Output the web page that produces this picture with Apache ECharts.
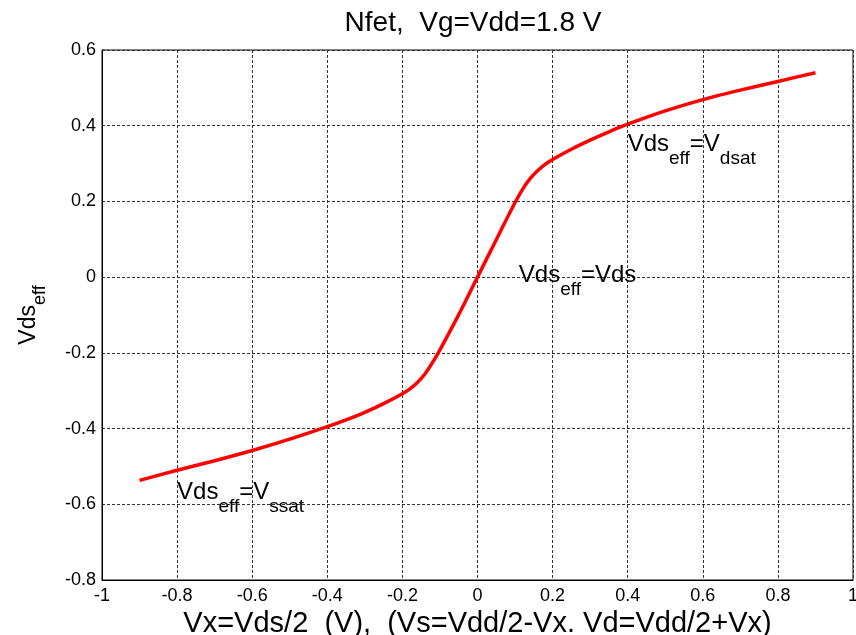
<!DOCTYPE html>
<html>
<head>
<meta charset="utf-8">
<title>Nfet Vds_eff</title>
<script src="https://cdn.jsdelivr.net/npm/echarts@6/dist/echarts.min.js"></script>
<style>
  html, body { margin: 0; padding: 0; background: #fff; }
  #chart { width: 856px; height: 635px; }
</style>
</head>
<body>
<div id="chart"></div>
<script>
// Sweep of Vx (V) and the resulting effective drain-source voltage
const vx = [-0.9, -0.8, -0.7, -0.6, -0.5, -0.4, -0.35, -0.3, -0.25, -0.2, -0.18, -0.16, -0.14, -0.12, -0.1, -0.05,
            0, 0.05, 0.1, 0.12, 0.14, 0.16, 0.18, 0.2, 0.25, 0.3, 0.35, 0.4, 0.5, 0.6, 0.7, 0.8, 0.9];
const vdsEff = [-0.537, -0.510, -0.485, -0.458, -0.428, -0.395, -0.377, -0.357, -0.334, -0.308, -0.295, -0.278, -0.256, -0.226, -0.192, -0.099,
                0, 0.099, 0.197, 0.232, 0.260, 0.281, 0.298, 0.311, 0.338, 0.362, 0.384, 0.404, 0.439, 0.469, 0.494, 0.517, 0.540];

// Axis tick values
const xTicks = [-1, -0.8, -0.6, -0.4, -0.2, 0, 0.2, 0.4, 0.6, 0.8, 1];
const yTicks = [-0.8, -0.6, -0.4, -0.2, 0, 0.2, 0.4, 0.6];

// Region notes: rich-text label and its anchor in axis units
const noteText = [
  '{b|Vds}{s|eff}{b|=V}{s|dsat}',
  '{b|Vds}{s|eff}{b|=Vds}',
  '{b|Vds}{s|eff}{b|=V}{s|ssat}'
];
const noteAt = [[0.4, 0.287], [0.11, -0.058], [-0.8, -0.632]];

const FONT = "'Liberation Sans', Arial, Helvetica, sans-serif";
const fmt = v => (v === 0 ? '0' : String(v));

const chart = echarts.init(document.getElementById('chart'), null, { renderer: 'canvas' });

chart.setOption({
  backgroundColor: '#fff',
  animation: false,
  title: {
    text: 'Nfet,  Vg=Vdd=1.8 V',
    left: 473,
    textAlign: 'center',
    top: 9,
    padding: 0,
    textStyle: { fontFamily: FONT, fontSize: 28, fontWeight: 'normal', color: '#000' }
  },
  grid: {
    left: 102, right: 3, top: 50, bottom: 55,
    outerBoundsMode: 'none',
    containLabel: false,
    show: true, borderColor: '#000', borderWidth: 1, backgroundColor: '#fff'
  },
  xAxis: {
    type: 'value',
    min: xTicks[0], max: xTicks[xTicks.length - 1], interval: 0.2,
    name: 'Vx=Vds/2  (V),  (Vs=Vdd/2-Vx. Vd=Vdd/2+Vx)',
    nameLocation: 'middle',
    nameGap: 25,
    nameTextStyle: { fontFamily: FONT, fontSize: 29, color: '#000' },
    axisLine: { onZero: false, lineStyle: { color: '#000', width: 1 } },
    axisTick: { show: false },
    axisLabel: { fontFamily: FONT, fontSize: 18, color: '#000', margin: 7, formatter: fmt },
    splitLine: { show: true, lineStyle: { color: '#333', width: 1, type: [3, 2] } }
  },
  yAxis: {
    type: 'value',
    min: yTicks[0], max: yTicks[yTicks.length - 1], interval: 0.2,
    name: '{b|Vds}{s|eff}',
    nameLocation: 'middle',
    nameGap: 53,
    nameTextStyle: {
      fontFamily: FONT, color: '#000',
      rich: {
        b: { fontFamily: FONT, fontSize: 23, color: '#000', verticalAlign: 'bottom', padding: [0, 0, 9, 0] },
        s: { fontFamily: FONT, fontSize: 18, color: '#000', verticalAlign: 'bottom' }
      }
    },
    axisLine: { onZero: false, lineStyle: { color: '#000', width: 1 } },
    axisTick: { show: false },
    axisLabel: { fontFamily: FONT, fontSize: 18, color: '#000', margin: 6, formatter: fmt },
    splitLine: { show: true, lineStyle: { color: '#333', width: 1, type: [3, 2] } }
  },
  series: [
    {
      type: 'line',
      data: vx.map((x, i) => [x, vdsEff[i]]),
      showSymbol: false,
      smooth: 0.25,
      lineStyle: { color: '#ff0000', width: 3.5 },
      z: 3
    },
    {
      type: 'scatter',
      symbolSize: 0,
      silent: true,
      itemStyle: { opacity: 1 },
      data: noteAt.map((p, i) => ({ value: p, label: { formatter: noteText[i] } })),
      label: {
        show: true,
        position: [0, 0],
        align: 'left',
        verticalAlign: 'bottom',
        color: '#000',
        opacity: 1,
        fontFamily: FONT,
        rich: {
          b: { fontFamily: FONT, fontSize: 24, color: '#000', verticalAlign: 'bottom', padding: [0, 0, 12, 0] },
          s: { fontFamily: FONT, fontSize: 19, color: '#000', verticalAlign: 'bottom' }
        }
      },
      emphasis: { disabled: true },
      z: 4
    }
  ]
});
</script>
</body>
</html>
